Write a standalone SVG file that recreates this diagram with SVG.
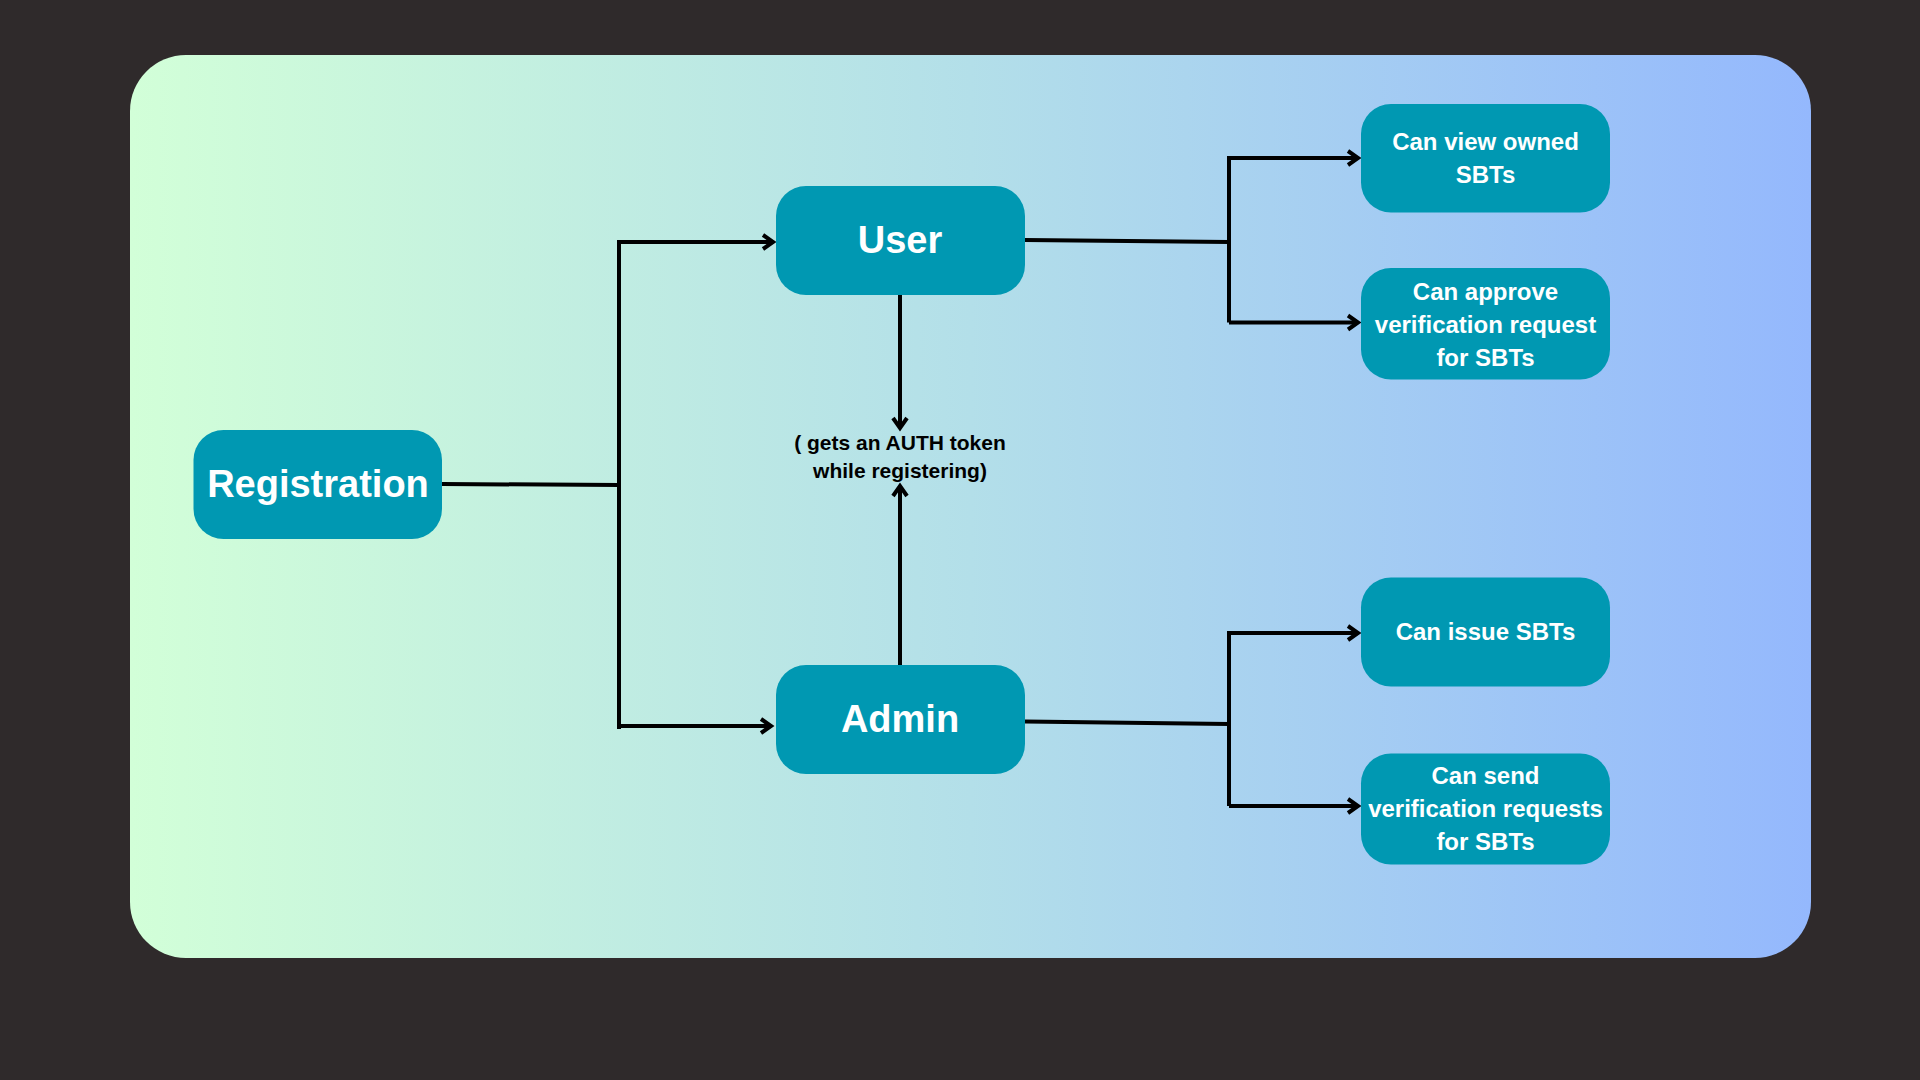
<svg xmlns="http://www.w3.org/2000/svg" width="1920" height="1080" viewBox="0 0 1920 1080">
  <defs>
    <linearGradient id="panelGrad" x1="0" y1="0" x2="1" y2="0">
      <stop offset="0" stop-color="#d2ffd8"/>
      <stop offset="0.5" stop-color="#b3dfe9"/>
      <stop offset="1" stop-color="#94b8fd"/>
    </linearGradient>
    <marker id="arrow" markerUnits="userSpaceOnUse" markerWidth="20" markerHeight="20" refX="0" refY="0" viewBox="-14 -10 18 20" orient="auto" overflow="visible">
      <path d="M-10,-7 L0,0 L-10,7" fill="none" stroke="#000" stroke-width="4" stroke-linejoin="miter"/>
    </marker>
    <style>
      .node { fill: #0098b2; }
      .big { font-family: "Liberation Sans", Arial, sans-serif; font-weight: bold; font-size: 38px; fill: #ffffff; text-anchor: middle; }
      .small { font-family: "Liberation Sans", Arial, sans-serif; font-weight: bold; font-size: 24px; fill: #ffffff; text-anchor: middle; }
      .note { font-family: "Liberation Sans", Arial, sans-serif; font-weight: bold; font-size: 21px; fill: #000000; text-anchor: middle; }
      .conn { fill: none; stroke: #000; stroke-width: 4; }
    </style>
  </defs>

  <rect x="0" y="0" width="1920" height="1080" fill="#2f2a2b"/>
  <rect x="130" y="55" width="1681" height="903" rx="56" ry="56" fill="url(#panelGrad)"/>

  <g id="connectors">
    <path class="conn" d="M442,484 L619,485"/>
    <path class="conn" d="M619,729 L619,242 L773,242" marker-end="url(#arrow)"/>
    <path class="conn" d="M619,726 L771,726" marker-end="url(#arrow)"/>
    <path class="conn" d="M900,295 L900,428" marker-end="url(#arrow)"/>
    <path class="conn" d="M900,665 L900,486" marker-end="url(#arrow)"/>
    <path class="conn" d="M1025,240 L1229,242"/>
    <path class="conn" d="M1229,322.5 L1229,158 L1358,158" marker-end="url(#arrow)"/>
    <path class="conn" d="M1229,322.5 L1358,322.5" marker-end="url(#arrow)"/>
    <path class="conn" d="M1025,721.5 L1229,724"/>
    <path class="conn" d="M1229,806 L1229,633 L1358,633" marker-end="url(#arrow)"/>
    <path class="conn" d="M1229,806 L1358,806" marker-end="url(#arrow)"/>
  </g>

  <g id="registration">
    <rect class="node" x="193.5" y="430" width="248.5" height="109" rx="30" ry="30"/>
    <text class="big" x="318" y="497">Registration</text>
  </g>

  <g id="user">
    <rect class="node" x="776" y="186" width="249" height="109" rx="30" ry="30"/>
    <text class="big" x="900" y="253">User</text>
  </g>

  <g id="admin">
    <rect class="node" x="776" y="665" width="249" height="109" rx="30" ry="30"/>
    <text class="big" x="900" y="732">Admin</text>
  </g>

  <g id="auth-note">
    <text class="note" x="900" y="450">( gets an AUTH token</text>
    <text class="note" x="900" y="478">while registering)</text>
  </g>

  <g id="view-sbts">
    <rect class="node" x="1361" y="104" width="249" height="108.5" rx="30" ry="30"/>
    <text class="small" x="1485.5" y="149.5">Can view owned</text>
    <text class="small" x="1485.5" y="182.5">SBTs</text>
  </g>

  <g id="approve-verification">
    <rect class="node" x="1361" y="268" width="249" height="111.5" rx="30" ry="30"/>
    <text class="small" x="1485.5" y="300">Can approve</text>
    <text class="small" x="1485.5" y="333">verification request</text>
    <text class="small" x="1485.5" y="365.5">for SBTs</text>
  </g>

  <g id="issue-sbts">
    <rect class="node" x="1361" y="577.5" width="249" height="109" rx="30" ry="30"/>
    <text class="small" x="1485.5" y="639.5">Can issue SBTs</text>
  </g>

  <g id="send-verification">
    <rect class="node" x="1361" y="753.5" width="249" height="111" rx="30" ry="30"/>
    <text class="small" x="1485.5" y="784">Can send</text>
    <text class="small" x="1485.5" y="817">verification requests</text>
    <text class="small" x="1485.5" y="850">for SBTs</text>
  </g>
</svg>
